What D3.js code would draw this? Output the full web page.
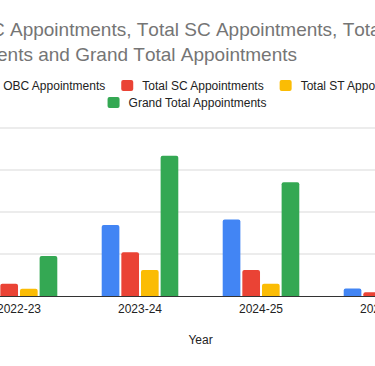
<!DOCTYPE html>
<html>
<head>
<meta charset="utf-8">
<script src="https://cdn.jsdelivr.net/npm/d3@7"></script>
<style>
  body { margin: 0; background: #fff; }
  svg { display: block; font-family: "Liberation Sans", Arial, sans-serif; }
</style>
</head>
<body>
<div id="chart"></div>
<script>
// data (units of appointments)
const years = ['2022-23', '2023-24', '2024-25', '2025-26'];
const seriesNames = ['Total OBC Appointments', 'Total SC Appointments', 'Total ST Appointments', 'Grand Total Appointments'];
const seriesColors = ['#4285f4', '#ea4335', '#fbbc04', '#34a853'];
const obc = [40, 169, 182, 18];
const sc = [29, 104, 62, 9];
const st = [17, 62, 29, 4];
const grand = [95, 334, 271, 32];
const yTicks = [0, 100, 200, 300, 400];

const titleLines = ['Total OBC Appointments, Total SC Appointments, Total ST', 'Appointments and Grand Total Appointments'];

const width = 375, height = 366;
// the chart is wider than the window, so the plot runs off both sides
const plot = { left: -41.5, right: 442.5, top: 128, bottom: 296 };

const svg = d3.select('#chart').append('svg')
  .attr('width', width)
  .attr('height', height);

const allSeries = [obc, sc, st, grand];

const x0 = d3.scaleBand()
  .domain(years)
  .range([plot.left, plot.right])
  .paddingInner(0.367)
  .paddingOuter(0.1835);

const x1 = d3.scaleBand()
  .domain(d3.range(seriesNames.length))
  .range([0, x0.bandwidth()])
  .paddingInner(0.1);

const y = d3.scaleLinear()
  .domain([0, d3.max(yTicks)])
  .range([plot.bottom, plot.top]);

// gridlines
svg.append('g')
  .selectAll('line')
  .data(yTicks.slice(1))
  .enter().append('line')
  .attr('x1', plot.left).attr('x2', plot.right)
  .attr('y1', d => y(d)).attr('y2', d => y(d))
  .attr('stroke', '#d9d9d9')
  .attr('stroke-width', 1);

// bars with slightly rounded tops
function barPath(x, yTop, w, h, r) {
  r = Math.min(r, h, w / 2);
  return `M${x},${yTop + h} V${yTop + r} Q${x},${yTop} ${x + r},${yTop} H${x + w - r} Q${x + w},${yTop} ${x + w},${yTop + r} V${yTop + h} Z`;
}

const groups = svg.append('g')
  .selectAll('g')
  .data(years)
  .enter().append('g')
  .attr('transform', d => 'translate(' + x0(d) + ',0)');

groups.selectAll('path')
  .data((d, i) => allSeries.map((s, k) => ({ k: k, v: s[i] })))
  .enter().append('path')
  .attr('d', d => barPath(x1(d.k), y(d.v), x1.bandwidth(), y(0) - y(d.v), 2))
  .attr('fill', d => seriesColors[d.k]);

// baseline
svg.append('line')
  .attr('x1', plot.left).attr('x2', plot.right)
  .attr('y1', y(0) + 0.5).attr('y2', y(0) + 0.5)
  .attr('stroke', '#333')
  .attr('stroke-width', 1);

// x labels
svg.append('g')
  .selectAll('text')
  .data(years)
  .enter().append('text')
  .attr('x', d => x0(d) + x0.bandwidth() / 2)
  .attr('y', 313)
  .attr('text-anchor', 'middle')
  .attr('font-size', 12)
  .attr('fill', '#222')
  .text(d => d);

svg.append('text')
  .attr('x', (plot.left + plot.right) / 2)
  .attr('y', 344)
  .attr('text-anchor', 'middle')
  .attr('font-size', 12)
  .attr('fill', '#222')
  .text('Year');

// title (runs off the left edge of the window)
const title = svg.append('g')
  .attr('font-size', 19)
  .attr('fill', '#757575')
  .style('font-kerning', 'none');

const t1 = title.append('text')
  .attr('y', 36)
  .text(titleLines[0]);
// put the word after "Total OBC " at x = 10
const lead = t1.node().getSubStringLength(0, titleLines[0].indexOf('Appointments'));
t1.attr('x', 10 - lead);

title.append('text')
  .attr('x', 297)
  .attr('y', 60.5)
  .attr('text-anchor', 'end')
  .text(titleLines[1]);

// legend: two centred rows
const legendRows = [[0, 1, 2], [3]];
const legendCenter = 187;
const sw = 12, gap = 9, itemGap = 16;

legendRows.forEach(function (row, r) {
  const g = svg.append('g');
  const baseY = 90 + r * 17;
  const items = row.map(function (k) {
    const it = g.append('g');
    it.append('rect')
      .attr('width', sw).attr('height', 11)
      .attr('y', baseY - 10)
      .attr('rx', 2)
      .attr('fill', seriesColors[k]);
    const t = it.append('text')
      .attr('x', sw + gap)
      .attr('y', baseY)
      .attr('font-size', 12)
      .attr('fill', '#222')
      .text(seriesNames[k]);
    return { g: it, w: sw + gap + t.node().getComputedTextLength() };
  });
  const total = d3.sum(items, d => d.w) + itemGap * (items.length - 1);
  let cx = legendCenter - total / 2;
  items.forEach(function (it) {
    it.g.attr('transform', 'translate(' + cx + ',0)');
    cx += it.w + itemGap;
  });
});
</script>
</body>
</html>
